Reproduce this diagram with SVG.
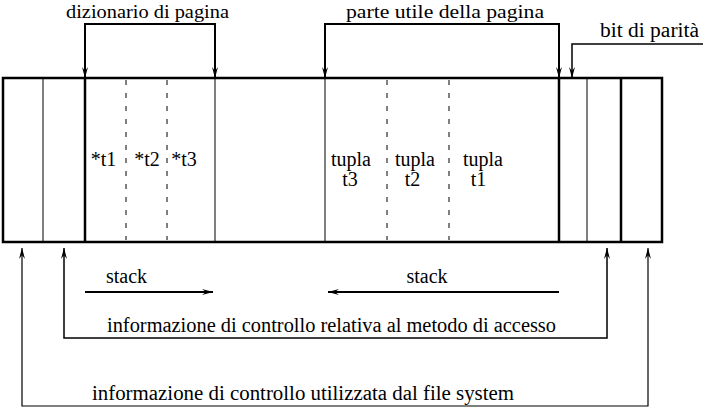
<svg xmlns="http://www.w3.org/2000/svg" width="704" height="410" viewBox="0 0 704 410">
<style>
.thick{stroke:#000;stroke-width:2.5;fill:none}
.thin{stroke:#000;stroke-width:1;fill:none}
.dash{stroke:#000;stroke-width:1;stroke-dasharray:5 8;fill:none}
.conn{stroke:#000;fill:none}
</style>
<defs>
<marker id="ah" markerUnits="userSpaceOnUse" markerWidth="12" markerHeight="8" viewBox="-12 -4 12 8" refX="0" refY="0" orient="auto-start-reverse">
<path d="M0,0 L-11,-3 L-7,0 L-11,3 Z" fill="#000"/>
</marker>
</defs>
<rect width="704" height="410" fill="#fff"/>
<g id="page">
<rect x="3" y="78" width="659" height="164" class="thick"/>
<line x1="43" y1="78" x2="43" y2="242" class="thin"/>
<line x1="85" y1="78" x2="85" y2="242" class="thick"/>
<line x1="126" y1="80" x2="126" y2="240" class="dash"/>
<line x1="167" y1="80" x2="167" y2="240" class="dash"/>
<line x1="215" y1="78" x2="215" y2="242" class="thin"/>
<line x1="325" y1="78" x2="325" y2="242" class="thin"/>
<line x1="387" y1="80" x2="387" y2="240" class="dash"/>
<line x1="449" y1="80" x2="449" y2="240" class="dash"/>
<line x1="559" y1="78" x2="559" y2="242" class="thick"/>
<line x1="587" y1="78" x2="587" y2="242" class="thin"/>
<line x1="621" y1="78" x2="621" y2="242" class="thick"/>
</g>
<g font-family="Liberation Serif, serif" font-size="20" text-anchor="middle" fill="#000">
<g id="cells">
<text x="103.5" y="166">*t1</text>
<text x="147" y="166">*t2</text>
<text x="184" y="166">*t3</text>
<text x="351" y="166">tupla</text>
<text x="350" y="186">t3</text>
<text x="415" y="166">tupla</text>
<text x="412.5" y="186">t2</text>
<text x="483" y="166">tupla</text>
<text x="478.5" y="186">t1</text>
</g>
<g id="label-dizionario"><text x="147.5" y="17.5" font-size="19" textLength="163" lengthAdjust="spacingAndGlyphs">dizionario di pagina</text></g>
<g id="label-parte-utile"><text x="445" y="17.5" font-size="19" textLength="198" lengthAdjust="spacingAndGlyphs">parte utile della pagina</text></g>
<g id="label-bit-parita"><text x="649.5" y="37" textLength="99" lengthAdjust="spacingAndGlyphs">bit di parità</text></g>
<g id="label-stack-left"><text x="126.5" y="283">stack</text></g>
<g id="label-stack-right"><text x="427" y="283">stack</text></g>
<g id="label-accesso"><text x="331.5" y="332" textLength="449" lengthAdjust="spacingAndGlyphs">informazione di controllo relativa al metodo di accesso</text></g>
<g id="label-file-system"><text x="303" y="400" textLength="422" lengthAdjust="spacingAndGlyphs">informazione di controllo utilizzata dal file system</text></g>
</g>
<g id="connectors">
<path d="M85,78 V24 H215 V78" class="conn" stroke-width="2" marker-start="url(#ah)" marker-end="url(#ah)"/>
<path d="M325,78 V24 H559 V78" class="conn" stroke-width="2" marker-start="url(#ah)" marker-end="url(#ah)"/>
<path d="M703,44 H572 V78" class="conn" stroke-width="1.5" marker-end="url(#ah)"/>
<path d="M85,292 H213" class="conn" stroke-width="2" marker-end="url(#ah)"/>
<path d="M559,292 H328" class="conn" stroke-width="2" marker-end="url(#ah)"/>
<path d="M607,248 V338 H64 V248" class="conn" stroke-width="1.5" marker-start="url(#ah)" marker-end="url(#ah)"/>
<path d="M648,248 V406 H22 V248" class="conn" stroke-width="1.2" marker-start="url(#ah)" marker-end="url(#ah)"/>
</g>
</svg>
